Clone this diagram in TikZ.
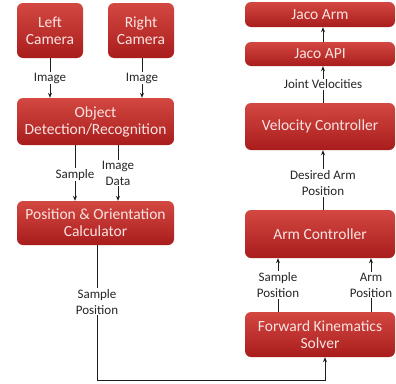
\documentclass[tikz,border=0pt]{standalone}
\usepackage{fontspec}
\setmainfont{Carlito}
\usetikzlibrary{arrows.meta,calc}
\definecolor{boxtop}{RGB}{212,72,66}
\definecolor{boxbot}{RGB}{168,28,28}
\definecolor{boxtext}{RGB}{250,228,226}
\definecolor{linec}{RGB}{30,30,30}
\tikzset{
  blk/.style={draw=none, rounded corners=6pt, top color=boxtop, bottom color=boxbot,
    text=boxtext, align=center, inner sep=0pt, font=\fontsize{15.5}{17}\selectfont},
  lbl/.style={fill=white, inner sep=1pt, align=center, text=black!85, font=\fontsize{13}{16}\selectfont},
  conn/.style={draw=linec, line width=0.8pt, -{Stealth[length=5pt,width=4pt]}},
}
\begin{document}
\begin{tikzpicture}[x=1pt,y=-1pt]
\useasboundingbox (0,0) rectangle (396,383);
% left column
\node[blk, minimum width=66, minimum height=55] (lc) at (50,30.5) {Left\\Camera};
\node[blk, minimum width=66, minimum height=55] (rc) at (141,30.5) {Right\\Camera};
\node[blk, minimum width=157, minimum height=47] (od) at (95.5,121.5) {Object\\Detection/Recognition};
\node[blk, minimum width=157, minimum height=44] (pos) at (95.5,223) {Position \& Orientation\\Calculator};
% right column
\node[blk, minimum width=150, minimum height=25] (ja) at (320,14.5) {Jaco Arm};
\node[blk, minimum width=150, minimum height=24] (api) at (320,54) {Jaco API};
\node[blk, minimum width=150, minimum height=47] (vc) at (320,126.5) {Velocity Controller};
\node[blk, minimum width=150, minimum height=48] (ac) at (320,234) {Arm Controller};
\node[blk, minimum width=150, minimum height=45] (fk) at (320,334.5) {Forward Kinematics\\Solver};
% connectors left
\draw[conn] (lc.south -| 50,0) -- (od.north -| 50,0) node[lbl, midway] {Image};
\draw[conn] (rc.south -| 142,0) -- (od.north -| 142,0) node[lbl, midway] {Image};
\draw[conn] (od.south -| 75,0) -- (pos.north -| 75,0) node[lbl, pos=0.53] {Sample};
\draw[conn] (od.south -| 118,0) -- (pos.north -| 118,0) node[lbl, midway] {Image\\Data};
\coordinate (c1) at (97,380);
\coordinate (c2) at (325,380);
\draw[conn] (pos.south -| 97,0) -- node[lbl, pos=0.42] {Sample\\Position} (c1) -- (c2) -- (fk.south -| 325,0);
% connectors right
\draw[conn] (fk.north -| 278,0) -- (ac.south -| 278,0) node[lbl, midway] {Sample\\Position};
\draw[conn] (fk.north -| 371,0) -- (ac.south -| 371,0) node[lbl, midway] {Arm\\Position};
\draw[conn] (ac.north -| 323,0) -- (vc.south -| 323,0) node[lbl, pos=0.45] {Desired Arm\\Position};
\draw[conn] (vc.north -| 323,0) -- (api.south -| 323,0) node[lbl, midway] {Joint Velocities};
\draw[conn] (api.north -| 323,0) -- (ja.south -| 323,0);
\end{tikzpicture}
\end{document}
